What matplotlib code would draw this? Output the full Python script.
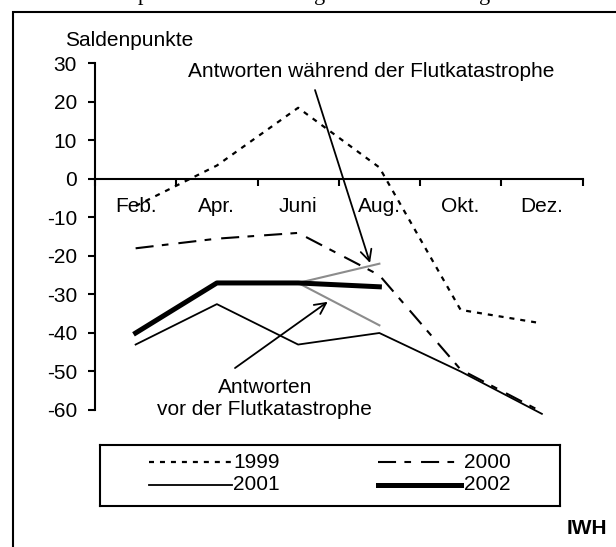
import matplotlib
matplotlib.use("Agg")
import matplotlib.pyplot as plt
import numpy as np
from matplotlib.patches import Rectangle

plt.rcParams["font.family"] = ["Liberation Sans", "DejaVu Sans"]
plt.rcParams["lines.scale_dashes"] = False
plt.rcParams["axes.unicode_minus"] = False

# data
months = ["Feb.", "Apr.", "Juni", "Aug.", "Okt.", "Dez."]
years = ["1999", "2000", "2001", "2002"]
s1999 = [-7, 3.5, 18.5, 3, -34, -37.5]
s2000 = [-18, -15.5, -14, -25, -49.5, -60.5]
s2001 = [-43, -32.5, -43, -40, -50, -61]
s2002 = [-40, -27, -27, -28]
flood_months = ["Juni", "Aug."]
during_flood = [-27, -22]
before_flood = [-27, -38]
yticks = list(range(-60, 31, 10))

series = {"1999": s1999, "2000": s2000, "2001": s2001, "2002": s2002}
styles = {
    "1999": dict(color="black", lw=1.6, ls=(0, (3.6, 4.3))),
    "2000": dict(color="black", lw=1.5, ls=(0, (13, 6, 4.8, 7.2))),
    "2001": dict(color="black", lw=1.3),
    "2002": dict(color="black", lw=3.6),
}

W, H = 616, 547
fig = plt.figure(figsize=(W / 100, H / 100), dpi=100)


def fx(px):
    return px / W


def fy(py):
    return 1 - py / H


ax = fig.add_axes([fx(95), fy(410), fx(487.5), 346.5 / H])
xs = np.arange(len(months)) + 0.5

flood_x = [xs[months.index(m)] for m in flood_months]
ax.plot(flood_x, during_flood, color="#8c8c8c", lw=1.5, clip_on=False)
ax.plot(flood_x, before_flood, color="#8c8c8c", lw=1.5, clip_on=False)
for y in years:
    vals = series[y]
    ax.plot(xs[:len(vals)], vals, clip_on=False, **styles[y])

ax.set_xlim(0, len(months))
ax.set_ylim(-60, 30)
for side in ["top", "right"]:
    ax.spines[side].set_visible(False)
ax.spines["bottom"].set_position(("data", 0))
ax.spines["left"].set_linewidth(1.5)
ax.spines["bottom"].set_linewidth(1.5)

ax.set_xticks(np.arange(len(months) + 1))
ax.set_xticklabels([])
ax.tick_params(axis="x", which="major", direction="out", length=5, width=1.5)
ax.set_xticks(xs, minor=True)
ax.set_xticklabels(months, minor=True, fontsize=15)
ax.tick_params(axis="x", which="minor", length=0, pad=13)
ax.set_yticks(yticks)
ax.set_yticklabels([str(v) for v in yticks], fontsize=15)
ax.tick_params(axis="y", direction="out", length=5, width=1.5, pad=8)

ax.text(3.40, 27.8, "Antworten während der Flutkatastrophe",
        ha="center", va="center", fontsize=15)
ax.annotate("", xy=(3.385, -21.8), xytext=(2.708, 23.1),
            arrowprops=dict(arrowstyle="->", lw=1.3, color="black",
                            shrinkA=0, shrinkB=0, mutation_scale=20))
ax.text(2.09, -57.1, "Antworten\nvor der Flutkatastrophe",
        ha="center", va="center", fontsize=15)
ax.annotate("", xy=(2.864, -31.9), xytext=(1.723, -49.1),
            arrowprops=dict(arrowstyle="->", lw=1.3, color="black",
                            shrinkA=0, shrinkB=0, mutation_scale=20))

fig.text(fx(65), fy(40), "Saldenpunkte", ha="left", va="center", fontsize=15)
fig.text(fx(607), fy(528), "IWH", ha="right", va="center",
         fontsize=15, fontweight="bold")

# legend box drawn by hand to match the wide padding of the original
lax = fig.add_axes([fx(100), fy(506), fx(460), 61 / H])
lax.set_xlim(100, 560)
lax.set_ylim(506, 445)
lax.set_xticks([])
lax.set_yticks([])
for sp in lax.spines.values():
    sp.set_linewidth(1.5)
col_x = [149, 378]
row_y = [462, 485]
for i, y in enumerate(years):
    x0, yy = col_x[i % 2], row_y[i // 2]
    lax.plot([x0, x0 + 83], [yy, yy], **styles[y])
    lax.text(x0 + 84 + 2 * (i % 2), yy, y, va="center", ha="left", fontsize=15)

# outer frame, continuing past the right and bottom edge
fig.add_artist(Rectangle((fx(13), -0.1), 1.2, fy(12) + 0.1,
                         transform=fig.transFigure, fill=False,
                         lw=1.5, ec="black"))

# descenders of the clipped heading above the frame
for px, ch in [(143, "p"), (320, "g"), (485, "g")]:
    fig.text(fx(px), 1.0, ch, ha="center", va="baseline", fontsize=16,
             family="Liberation Serif")

fig.savefig("out.png", dpi=100, facecolor="white")
